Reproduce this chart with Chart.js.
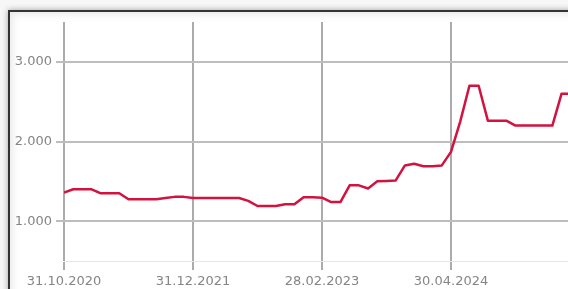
<!DOCTYPE html>
<html>
<head>
<meta charset="utf-8">
<script src="https://cdn.jsdelivr.net/npm/chart.js@4.4.1/dist/chart.umd.min.js"></script>
<style>
  html, body { margin: 0; padding: 0; width: 568px; height: 289px; overflow: hidden; background: #f7f7f7; }
  #frame {
    position: absolute; left: 8px; top: 10px; width: 620px; height: 320px;
    background: #fff;
    border-left: 2px solid #333; border-top: 2px solid #333;
    box-shadow: 0 0 6px rgba(0,0,0,0.35), inset 2px 2px 8px rgba(0,0,0,0.10);
  }
  #wrap { position: absolute; left: 0; top: 0; width: 580px; height: 289px; }
</style>
</head>
<body>
<div id="frame"></div>
<div id="wrap"><canvas id="priceChart" width="580" height="289"></canvas></div>
<script>
// month index since 31.10.2020
const months = [
   0,  1,  2,  3,  4,  5,  6,  7,  8,  9, 10, 11, 12, 13, 14, 15, 16, 17, 18, 19,
  20, 21, 22, 23, 24, 25, 26, 27, 28, 29, 30, 31, 32, 33, 34, 35, 36, 37, 38, 39,
  40, 41, 42, 43, 44, 45, 46, 47, 48, 49, 50, 51, 52, 53, 54, 55, 56
];
const prices = [
  1360, 1400, 1400, 1400, 1350, 1350, 1350, 1275, 1275, 1275, 1275, 1290, 1305, 1305, 1292, 1292, 1292, 1292, 1292, 1290,
  1255, 1190, 1190, 1190, 1212, 1212, 1300, 1300, 1295, 1240, 1240, 1450, 1450, 1410, 1500, 1505, 1512, 1700, 1720, 1690,
  1688, 1700, 1870, 2250, 2700, 2700, 2262, 2262, 2262, 2200, 2200, 2200, 2200, 2200, 2600, 2600, 2600
];
const xTickPos = [0, 14, 28, 42];
const xTickLabels = ["31.10.2020", "31.12.2021", "28.02.2023", "30.04.2024"];
const yTicks = [1000, 2000, 3000];

const labelFont = { family: "DejaVu Sans", size: 13 };
const labelColor = "#858585";

const fmt = v => String(v).replace(/\B(?=(\d{3})+(?!\d))/g, ".");

new Chart(document.getElementById("priceChart"), {
  type: "line",
  data: {
    datasets: [{
      data: months.map((m, i) => ({ x: m, y: prices[i] })),
      borderColor: "#d2123f",
      borderWidth: 2.5,
      pointRadius: 0,
      tension: 0,
      borderJoinStyle: "round",
      fill: false
    }]
  },
  options: {
    responsive: false,
    animation: false,
    devicePixelRatio: 1,
    layout: { padding: { top: 22, left: 0, right: 0, bottom: 0 } },
    plugins: { legend: { display: false }, tooltip: { enabled: false } },
    scales: {
      x: {
        type: "linear",
        min: 0,
        max: 56,
        afterBuildTicks: s => { s.ticks = xTickPos.map(v => ({ value: v })); },
        afterFit: s => { s.height = 28; },
        ticks: {
          autoSkip: false,
          maxRotation: 0,
          padding: 4,
          color: labelColor,
          font: labelFont,
          callback: (v, i) => xTickLabels[i]
        },
        grid: { color: "#ababab", lineWidth: 2, tickLength: 9 },
        border: { color: "#e6e6e6", width: 1 }
      },
      y: {
        min: 500,
        max: 3500,
        afterBuildTicks: s => { s.ticks = yTicks.map(v => ({ value: v })); },
        afterFit: s => { s.width = 64; },
        ticks: {
          padding: 4,
          color: labelColor,
          font: labelFont,
          callback: v => fmt(v)
        },
        grid: { color: "#bdbdbd", lineWidth: 2, tickLength: 8 },
        border: { display: false }
      }
    }
  }
});
</script>
</body>
</html>
